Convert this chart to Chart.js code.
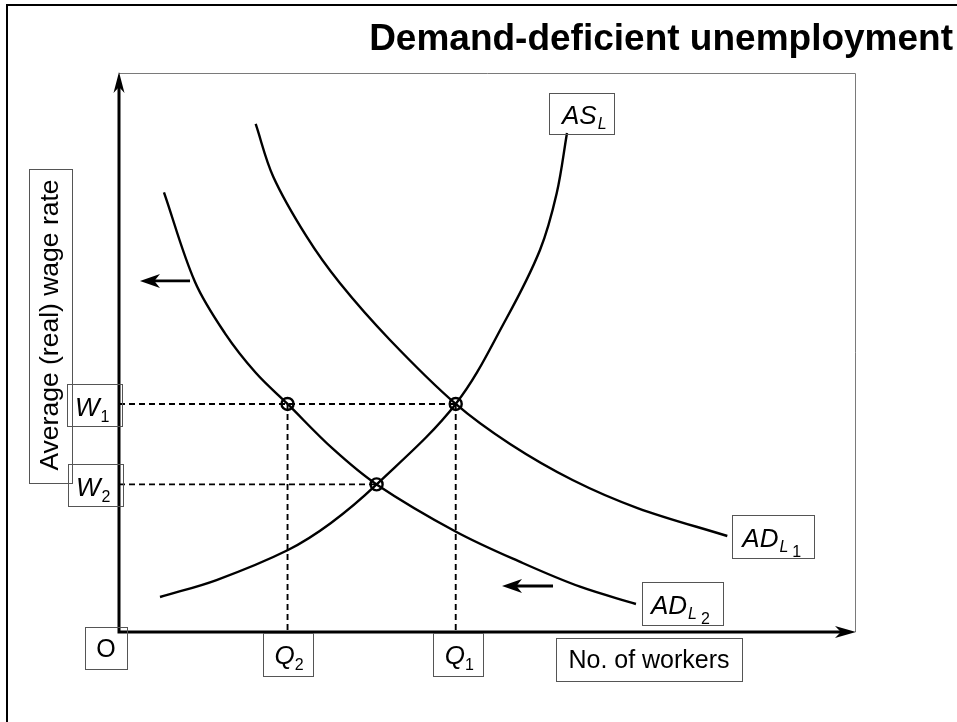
<!DOCTYPE html>
<html><head><meta charset="utf-8">
<script src="https://cdn.jsdelivr.net/npm/chart.js@4/dist/chart.umd.min.js"></script>
<style>html,body{margin:0;padding:0;background:#fff}canvas{display:block}</style>
</head><body>
<canvas id="c" width="957" height="722"></canvas>
<script>
// ---- text ----
const chartTitle = 'Demand-deficient unemployment';
const xAxisTitle = 'No. of workers';
const yAxisTitle = 'Average (real) wage rate';
const originLabel = 'O';

// ---- curves (workers on x, real wage on y), 0-100 units ----
const asLx  = [5.57, 13.25, 22.96, 28.80, 35.00, 45.75, 52.60, 57.20, 59.47, 60.87];
const asLy  = [6.26,  9.30, 14.67, 19.50, 26.40, 40.80, 56.00, 68.34, 78.48, 89.27];
const adL1x = [18.57, 20.96, 25.50, 30.03, 36.82, 45.75, 53.13, 61.62, 70.45, 82.65];
const adL1y = [90.88, 81.45, 70.72, 62.38, 52.24, 40.80, 33.63, 27.19, 22.18, 17.17];
const adL2x = [6.11, 10.33, 14.40, 18.61, 22.90, 29.08, 35.00, 45.79, 54.85, 62.64, 70.24];
const adL2y = [78.66, 62.61, 53.43, 46.33, 40.80, 32.74, 26.40, 17.94, 12.34, 8.10, 5.01];

// ---- equilibrium values ----
const wageLevels = [40.8, 26.4];          // W1, W2
const wageNames  = ['1', '2'];
const qtyLevels  = [45.75, 22.9];         // Q1, Q2
const qtyNames   = ['1', '2'];
const eqX = [45.75, 22.9, 35.0];
const eqY = [40.8, 40.8, 26.4];

// ---- leftward shift arrows (from -> to) ----
const shiftFromX = [9.65, 58.97];
const shiftToX   = [2.85, 52.04];
const shiftY     = [62.8, 8.23];

const pts = (xs, ys) => xs.map((x, i) => ({x, y: ys[i]}));
const FONT = '"Liberation Sans", Arial, Helvetica, sans-serif';

function drawParts(ctx, x, y, parts) {
  let cx = x;
  for (const p of parts) {
    ctx.font = (p.i ? 'italic ' : '') + p.s + 'px ' + FONT;
    cx += (p.dx || 0);
    ctx.fillText(p.t, cx, y + (p.dy || 0));
    cx += ctx.measureText(p.t).width;
  }
}
function box(ctx, x0, y0, x1, y1, col) {
  ctx.save();
  ctx.strokeStyle = col || '#555';
  ctx.lineWidth = 1;
  ctx.strokeRect(Math.round(x0) + 0.5, Math.round(y0) + 0.5, Math.round(x1 - x0), Math.round(y1 - y0));
  ctx.restore();
}
function head(ctx, tx, ty, dx, dy, len, half) {
  const px = -dy, py = dx;
  const bx = tx - dx * len, by = ty - dy * len;
  const nx = tx - dx * len * 0.72, ny = ty - dy * len * 0.72;
  ctx.beginPath();
  ctx.moveTo(tx, ty);
  ctx.lineTo(bx + px * half, by + py * half);
  ctx.lineTo(nx, ny);
  ctx.lineTo(bx - px * half, by - py * half);
  ctx.closePath();
  ctx.fill();
}

const decor = {
  id: 'decor',
  beforeDraw(chart) {
    const ctx = chart.ctx;
    ctx.save();
    ctx.fillStyle = '#fff';
    ctx.fillRect(0, 0, chart.width, chart.height);
    // outer frame
    ctx.strokeStyle = '#000';
    ctx.lineWidth = 2;
    ctx.strokeRect(7, 5, 980, 760);
    // plot frame (thin grey)
    const a = chart.chartArea;
    ctx.strokeStyle = '#7a7a7a';
    ctx.lineWidth = 1;
    ctx.beginPath();
    ctx.moveTo(a.left, a.top + 0.5);
    ctx.lineTo(a.right + 0.5, a.top + 0.5);
    ctx.lineTo(a.right + 0.5, a.bottom);
    ctx.stroke();
    // title
    ctx.fillStyle = '#000';
    ctx.font = 'bold 37px ' + FONT;
    ctx.textAlign = 'right';
    ctx.textBaseline = 'alphabetic';
    ctx.fillText(chartTitle, 953, 50);
    ctx.restore();
  },
  afterDraw(chart) {
    const ctx = chart.ctx;
    const xs = chart.scales.x, ys = chart.scales.y;
    const a = chart.chartArea;
    const X = v => xs.getPixelForValue(v), Y = v => ys.getPixelForValue(v);
    ctx.save();
    ctx.fillStyle = '#000';
    ctx.strokeStyle = '#000';
    // axes
    const ox = X(0), oy = Y(0);
    ctx.lineWidth = 3;
    ctx.beginPath();
    ctx.moveTo(ox, oy);
    ctx.lineTo(ox, a.top + 12);
    ctx.moveTo(ox - 1.5, oy);
    ctx.lineTo(a.right - 12, oy);
    ctx.stroke();
    head(ctx, ox, a.top - 1, 0, -1, 21, 5.5);
    head(ctx, a.right + 1, oy, 1, 0, 21, 6);
    // shift arrows
    ctx.lineWidth = 2.8;
    for (let i = 0; i < shiftY.length; i++) {
      const x0 = X(shiftFromX[i]), x1 = X(shiftToX[i]), y = Y(shiftY[i]);
      ctx.beginPath();
      ctx.moveTo(x0, y);
      ctx.lineTo(x1 + 12, y);
      ctx.stroke();
      head(ctx, x1, y, -1, 0, 20, 7);
    }
    ctx.textAlign = 'left';
    ctx.textBaseline = 'alphabetic';
    // W labels
    for (let i = 0; i < wageLevels.length; i++) {
      const y = Y(wageLevels[i]);
      const r = ox + 3 + i;
      box(ctx, r - 55, y - 20, r, y + 22);
      drawParts(ctx, r - 47, y + 12, [{t: 'W', i: true, s: 26}, {t: wageNames[i], s: 16, dy: 6, dx: 1}]);
    }
    // Q labels
    for (let i = 0; i < qtyLevels.length; i++) {
      const x = X(qtyLevels[i]) + (i === 0 ? 2 : 0);
      const t = oy + 1;
      box(ctx, x - 25, t, x + 25, t + 43);
      drawParts(ctx, x - 13, t + 31, [{t: 'Q', i: true, s: 26}, {t: qtyNames[i], s: 16, dy: 6, dx: 0}]);
    }
    // origin
    box(ctx, ox - 34, oy - 5, ox + 8, oy + 37);
    ctx.font = '25px ' + FONT;
    ctx.textAlign = 'center';
    ctx.fillText(originLabel, ox - 13, oy + 25);
    // x axis title
    box(ctx, 556, oy + 6, 742, oy + 49);
    ctx.font = '25px ' + FONT;
    ctx.fillText(xAxisTitle, 649, oy + 36);
    // y axis title
    box(ctx, 29, 169, 72, 483);
    ctx.save();
    ctx.translate(51, 325);
    ctx.rotate(-Math.PI / 2);
    ctx.textBaseline = 'middle';
    ctx.font = '26.5px ' + FONT;
    ctx.fillText(yAxisTitle, 0, 0);
    ctx.restore();
    ctx.textAlign = 'left';
    // curve labels
    const asEnd = {x: X(asLx[asLx.length - 1]), y: Y(asLy[asLy.length - 1])};
    box(ctx, asEnd.x - 18, asEnd.y - 40, asEnd.x + 47, asEnd.y + 1);
    drawParts(ctx, asEnd.x - 5, asEnd.y - 9, [{t: 'AS', i: true, s: 26}, {t: 'L', i: true, s: 16, dy: 5, dx: 1}]);
    const a1 = {x: X(adL1x[adL1x.length - 1]), y: Y(adL1y[adL1y.length - 1])};
    box(ctx, a1.x + 5, a1.y - 21, a1.x + 87, a1.y + 22);
    drawParts(ctx, a1.x + 15, a1.y + 11, [{t: 'AD', i: true, s: 26}, {t: 'L', i: true, s: 16, dy: 5, dx: 1}, {t: '1', s: 16, dy: 10, dx: 4}]);
    const a2 = {x: X(adL2x[adL2x.length - 1]), y: Y(adL2y[adL2y.length - 1])};
    box(ctx, a2.x + 6, a2.y - 22, a2.x + 87, a2.y + 21);
    drawParts(ctx, a2.x + 15, a2.y + 10, [{t: 'AD', i: true, s: 26}, {t: 'L', i: true, s: 16, dy: 5, dx: 1}, {t: '2', s: 16, dy: 10, dx: 4}]);
    ctx.restore();
  }
};

const curve = (data) => ({
  data, showLine: true, borderColor: '#000', borderWidth: 2.4, pointRadius: 0,
  tension: 0.35, fill: false
});
const dashed = (data) => ({
  data, showLine: true, borderColor: '#000', borderWidth: 1.9, borderDash: [6, 4],
  pointRadius: 0, fill: false
});

const W1 = wageLevels[0], W2 = wageLevels[1], Q1 = qtyLevels[0], Q2 = qtyLevels[1];

new Chart(document.getElementById('c'), {
  type: 'scatter',
  data: {
    datasets: [
      dashed([{x: 0, y: W1}, {x: Q1, y: W1}]),
      dashed([{x: 0, y: W2}, {x: eqX[2], y: W2}]),
      dashed([{x: Q1, y: W1}, {x: Q1, y: 0}]),
      dashed([{x: Q2, y: W1}, {x: Q2, y: 0}]),
      curve(pts(asLx, asLy)),
      curve(pts(adL1x, adL1y)),
      curve(pts(adL2x, adL2y)),
      {data: pts(eqX, eqY), showLine: false, pointRadius: 6, pointBorderWidth: 2.4,
       pointBorderColor: '#000', pointBackgroundColor: 'rgba(0,0,0,0)', pointStyle: 'circle'}
    ]
  },
  options: {
    responsive: false, animation: false, devicePixelRatio: 1,
    layout: {padding: {left: 119, right: 102, top: 73, bottom: 90}},
    plugins: {legend: {display: false}, tooltip: {enabled: false}, title: {display: false}},
    scales: {
      x: {type: 'linear', min: 0, max: 100, display: false},
      y: {type: 'linear', min: 0, max: 100, display: false}
    }
  },
  plugins: [decor]
});
</script>
</body></html>
